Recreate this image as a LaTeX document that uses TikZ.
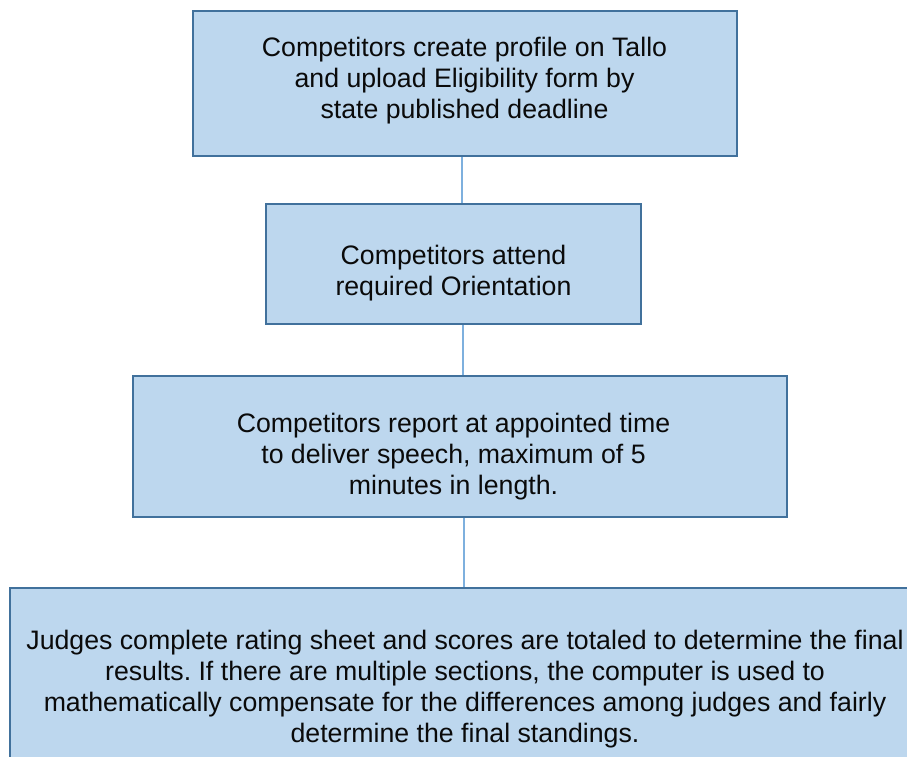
\documentclass[tikz,border=0pt]{standalone}
\usepackage{fontspec}
\setmainfont{Liberation Sans}
\frenchspacing
\definecolor{boxfill}{HTML}{BDD7EE}
\definecolor{boxline}{HTML}{41719C}
\definecolor{conn}{HTML}{7EB0DE}
\definecolor{txtc}{HTML}{0A0A0A}
\begin{document}
\begin{tikzpicture}[x=1pt,y=-1pt,
  box/.style={draw=boxline,fill=boxfill,line width=2pt,inner sep=0pt},
  txt/.style={align=center,text=txtc,font=\fontsize{26.7}{31}\selectfont,inner sep=0pt},
  link/.style={draw=conn,line width=1.5pt}]
\useasboundingbox (0,0) rectangle (907,756);
\clip (0,0) rectangle (907,756);
\node[box,minimum width=544pt,minimum height=145pt] (b1) at (465,83.5) {};
\node[txt] (t1) at (464.5,81) {Competitors create profile on Tallo\\and upload Eligibility form by\\state published deadline};
\node[box,minimum width=375pt,minimum height=120pt] (b2) at (453.5,264) {};
\node[txt] (t2) at (453.5,273) {Competitors attend\\required Orientation};
\node[box,minimum width=654pt,minimum height=141pt] (b3) at (460,446.5) {};
\node[txt] (t3) at (453.5,456.5) {Competitors report at appointed time\\to deliver speech, maximum of 5\\minutes in length.};
\node[box,minimum width=910pt,minimum height=190pt] (b4) at (465,683) {};
\node[txt] (t4) at (465,689) {Judges complete rating sheet and scores are totaled to determine the final\\results. If there are multiple sections, the computer is used to\\mathematically compensate for the differences among judges and fairly\\determine the final standings.};
\draw[link] (b1.south -| 462,0) -- (b2.north -| 462,0);
\draw[link] (b2.south -| 463,0) -- (b3.north -| 463,0);
\draw[link] (b3.south -| 464,0) -- (b4.north -| 464,0);
\end{tikzpicture}
\end{document}
